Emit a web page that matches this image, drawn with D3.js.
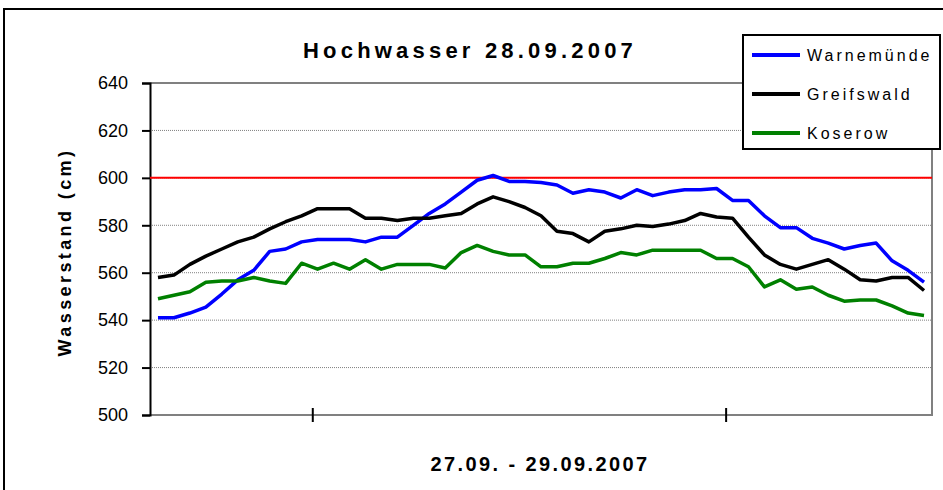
<!DOCTYPE html>
<html>
<head>
<meta charset="utf-8">
<script src="https://cdn.jsdelivr.net/npm/d3@7"></script>
<style>
  body { margin: 0; background: #fff; }
  svg { font-family: "Liberation Sans", Arial, sans-serif; }
</style>
</head>
<body>
<div id="chart"></div>
<script>
// Wasserstand (cm), one value per reading, 27.09. - 29.09.2007
const seriesNames = ['Warnemünde', 'Greifswald', 'Koserow'];
const warnemuende = [541, 541, 543, 545.5, 551, 557, 561, 569, 570, 573, 574, 574,
  574, 573, 575, 575, 580, 585, 589, 594, 599, 601, 598.5, 598.5,
  598, 597, 593.5, 595, 594, 591.5, 595, 592.5, 594, 595, 595, 595.5,
  590.5, 590.5, 584, 579, 579, 574.5, 572.5, 570, 571.5, 572.5, 565, 561, 556];
const greifswald = [558, 559, 563.5, 567, 570, 573, 575, 578.5, 581.5, 584, 587, 587,
  587, 583, 583, 582, 583, 583, 584, 585, 589, 592, 590, 587.5,
  584, 577.5, 576.5, 573, 577.5, 578.5, 580, 579.5, 580.5, 582, 585, 583.5,
  583, 575, 567.5, 563.5, 561.5, 563.5, 565.5, 561.5, 557, 556.5, 558, 558, 552.5];
const koserow = [549, 550.5, 552, 556, 556.5, 556.5, 558, 556.5, 555.5, 564, 561.5, 564,
  561.5, 565.5, 561.5, 563.5, 563.5, 563.5, 562, 568.5, 571.5, 569, 567.5, 567.5,
  562.5, 562.5, 564, 564, 566, 568.5, 567.5, 569.5, 569.5, 569.5, 569.5, 566,
  566, 562.5, 554, 557, 553, 554, 550.5, 548, 548.5, 548.5, 546, 543, 542];
const yTicks = [500, 520, 540, 560, 580, 600, 620, 640];
const xTicks = [9.7, 35.6];   // day boundaries, in reading index
const alarmLevel = 600;

const width = 943;
const height = 490;
const colors = ['#0000ff', '#000000', '#008000'];
const series = [warnemuende, greifswald, koserow];

const svg = d3.select('#chart')
  .append('svg')
  .attr('width', width)
  .attr('height', height);

// chart border
svg.append('rect')
  .attr('x', 4).attr('y', 9)
  .attr('width', 960).attr('height', 500)
  .attr('fill', '#fff')
  .attr('stroke', '#000')
  .attr('stroke-width', 2);

const plotLeft = 150, plotRight = 932, plotTop = 83, plotBottom = 415;

const x = d3.scaleLinear()
  .domain([-0.5, warnemuende.length - 0.5])
  .range([plotLeft, plotRight]);

const y = d3.scaleLinear()
  .domain([500, 640])
  .range([plotBottom, plotTop]);

// gridlines
svg.append('g')
  .selectAll('line')
  .data(yTicks.filter(d => d > 500 && d < 640))
  .enter()
  .append('line')
  .attr('x1', plotLeft).attr('x2', plotRight)
  .attr('y1', d => y(d)).attr('y2', d => y(d))
  .attr('stroke', '#808080')
  .attr('stroke-width', 1)
  .attr('stroke-dasharray', '1,1');

// plot area border (top, right, bottom)
svg.append('path')
  .attr('d', `M${plotLeft},${plotTop}H${plotRight}V${plotBottom}H${plotLeft}`)
  .attr('fill', 'none')
  .attr('stroke', '#808080')
  .attr('stroke-width', 2);

// y axis
const yAxis = svg.append('g')
  .attr('transform', `translate(${plotLeft},0)`)
  .call(d3.axisLeft(y).tickValues(yTicks).tickSize(8).tickPadding(14));
yAxis.select('.domain').attr('stroke', '#000').attr('stroke-width', 2);
yAxis.selectAll('.tick line').attr('stroke', '#000').attr('stroke-width', 2);
yAxis.selectAll('.tick text')
  .attr('font-size', 18)
  .attr('fill', '#000')
  .attr('font-family', '"Liberation Sans", Arial, sans-serif');

// x ticks crossing the axis
svg.append('g')
  .selectAll('line')
  .data(xTicks)
  .enter()
  .append('line')
  .attr('x1', d => x(d)).attr('x2', d => x(d))
  .attr('y1', plotBottom - 7).attr('y2', plotBottom + 7)
  .attr('stroke', '#000')
  .attr('stroke-width', 2);

// alarm level
svg.append('line')
  .attr('x1', plotLeft).attr('x2', plotRight)
  .attr('y1', y(alarmLevel)).attr('y2', y(alarmLevel))
  .attr('stroke', '#ff0000')
  .attr('stroke-width', 2);

const line = d3.line()
  .x((d, i) => x(i))
  .y(d => y(d));

svg.append('g')
  .selectAll('path')
  .data(series)
  .enter()
  .append('path')
  .attr('d', line)
  .attr('fill', 'none')
  .attr('stroke', (d, i) => colors[i])
  .attr('stroke-width', 3.5)
  .attr('stroke-linejoin', 'round');

// title and axis labels
svg.append('text')
  .attr('x', 470).attr('y', 58)
  .attr('text-anchor', 'middle')
  .attr('font-size', 22)
  .attr('font-weight', 'bold')
  .attr('letter-spacing', 4.2)
  .text('Hochwasser 28.09.2007');

svg.append('text')
  .attr('transform', 'translate(71,252) rotate(-90)')
  .attr('text-anchor', 'middle')
  .attr('font-size', 18)
  .attr('font-weight', 'bold')
  .attr('letter-spacing', 3.4)
  .text('Wasserstand (cm)');

svg.append('text')
  .attr('x', 540).attr('y', 471)
  .attr('text-anchor', 'middle')
  .attr('font-size', 20)
  .attr('font-weight', 'bold')
  .attr('letter-spacing', 2.4)
  .text('27.09. - 29.09.2007');

// legend
const legend = svg.append('g');
legend.append('rect')
  .attr('x', 743).attr('y', 35)
  .attr('width', 197).attr('height', 114)
  .attr('fill', '#fff')
  .attr('stroke', '#000')
  .attr('stroke-width', 2);

const items = legend.selectAll('.item')
  .data(seriesNames)
  .enter()
  .append('g')
  .attr('class', 'item')
  .attr('transform', (d, i) => `translate(752,${55 + i * 39})`);

items.append('line')
  .attr('x1', 0).attr('x2', 48)
  .attr('stroke', (d, i) => colors[i])
  .attr('stroke-width', 4);

items.append('text')
  .attr('x', 55).attr('y', 6)
  .attr('font-size', 16)
  .attr('letter-spacing', 3)
  .text(d => d);
</script>
</body>
</html>
